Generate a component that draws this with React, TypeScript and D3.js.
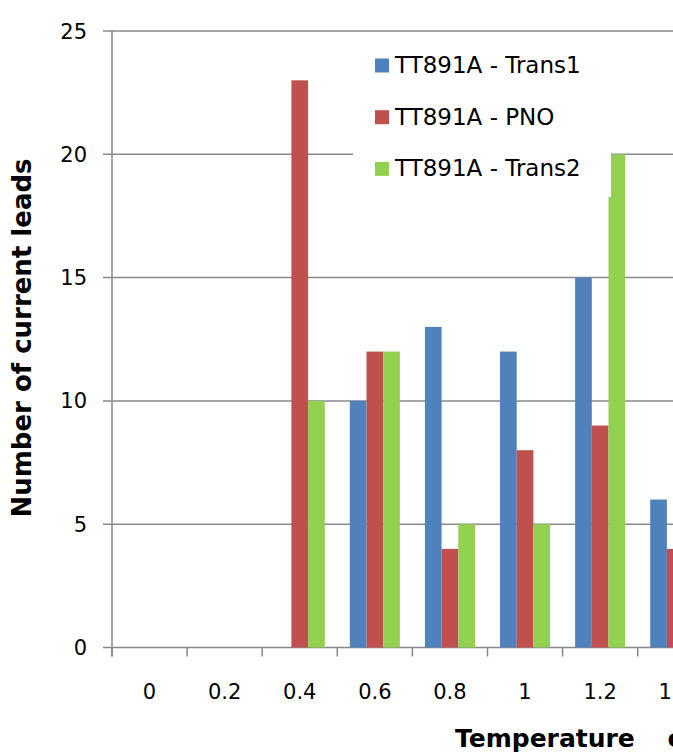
import * as d3 from "d3";

const categories = ["0", "0.2", "0.4", "0.6", "0.8", "1", "1.2", "1.4"];
const seriesNames = ["TT891A - Trans1", "TT891A - PNO", "TT891A - Trans2"];
const trans1 = [0, 0, 0, 10, 13, 12, 15, 6];
const pno = [0, 0, 23, 12, 4, 8, 9, 4];
const trans2 = [0, 0, 10, 12, 5, 5, 20, 3];
const seriesColors = ["#4F81BD", "#C0504D", "#92D050"];
const yTicks = [0, 5, 10, 15, 20, 25];

const W = 673;
const H = 756;
const left = 112;
const bandW = 75.1;
const font = "'DejaVu Sans', sans-serif";
const axisColor = "#888888";

const App = () => {
  const values = [trans1, pno, trans2];

  const y = d3.scaleLinear().domain([0, 25]).range([647.5, 31]);
  const x0 = d3
    .scaleBand()
    .domain(categories)
    .range([left, left + bandW * categories.length]);
  // excel style: gap width 150% of a bar
  const barW = x0.bandwidth() / 4.5;
  const x1 = d3
    .scaleBand()
    .domain(seriesNames)
    .range([barW * 0.75, barW * 3.75]);

  return (
    <svg
      width={W}
      height={H}
      style={{ position: "absolute", left: 0, top: 0, background: "#fff" }}
    >
      {/* gridlines */}
      {yTicks.map((t) => (
        <line
          key={"g" + t}
          x1={left - 9}
          x2={W}
          y1={y(t)}
          y2={y(t)}
          stroke={axisColor}
          strokeWidth={1.5}
        />
      ))}
      <line x1={left} x2={left} y1={y(25)} y2={y(0) + 9} stroke={axisColor} strokeWidth={1.5} />
      {categories.map((c) => (
        <line
          key={"t" + c}
          x1={x0(c)}
          x2={x0(c)}
          y1={y(0)}
          y2={y(0) + 9}
          stroke={axisColor}
          strokeWidth={1.5}
        />
      ))}

      {/* bars */}
      {categories.map((c, i) => (
        <g key={"c" + c} transform={`translate(${x0(c)},0)`}>
          {seriesNames.map((s, j) =>
            values[j][i] > 0 ? (
              <rect
                key={s}
                x={x1(s)}
                y={y(values[j][i])}
                width={x1.bandwidth()}
                height={y(0) - y(values[j][i])}
                fill={seriesColors[j]}
              />
            ) : null
          )}
        </g>
      ))}

      {/* legend */}
      <rect x={353} y={40} width={258} height={157} fill="#fff" />
      {seriesNames.map((s, j) => (
        <g key={"l" + s} transform={`translate(375,${65.5 + j * 51.7})`}>
          <rect x={0} y={-7} width={14} height={14} fill={seriesColors[j]} />
          <text x={20} y={7.5} fontFamily={font} fontSize={23} fill="#000">
            {s}
          </text>
        </g>
      ))}

      {/* tick labels */}
      {yTicks.map((t) => (
        <text
          key={"yl" + t}
          x={87}
          y={y(t) + 7.5}
          textAnchor="end"
          fontFamily={font}
          fontSize={21}
          fill="#000"
        >
          {t}
        </text>
      ))}
      {categories.map((c) => (
        <text
          key={"xl" + c}
          x={(x0(c) as number) + x0.bandwidth() / 2}
          y={699}
          textAnchor="middle"
          fontFamily={font}
          fontSize={21}
          fill="#000"
        >
          {c}
        </text>
      ))}

      {/* axis titles */}
      <text
        transform="translate(31,338) rotate(-90)"
        textAnchor="middle"
        fontFamily={font}
        fontSize={26}
        fontWeight="bold"
        fill="#000"
      >
        Number of current leads
      </text>
      <text
        x={455}
        y={747}
        fontFamily={font}
        fontSize={25}
        fontWeight="bold"
        wordSpacing={24}
        fill="#000"
      >
        Temperature change
      </text>
    </svg>
  );
};

export default App;
